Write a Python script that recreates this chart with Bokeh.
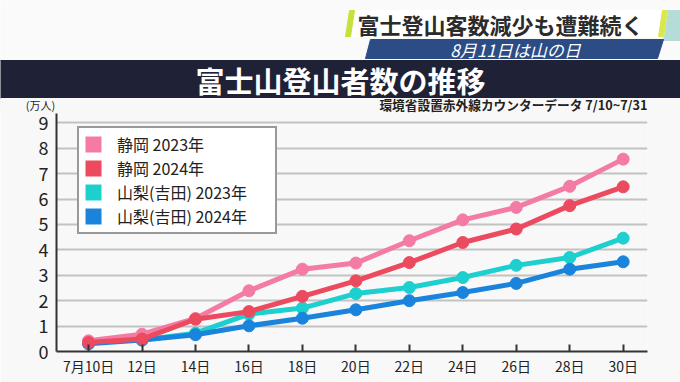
from bokeh.plotting import figure
from bokeh.models import Range1d, FixedTicker, Legend, LegendItem
from bokeh.embed import file_html
from bokeh.resources import INLINE
from bokeh.core.properties import value

# ---- data ----
days = [10, 12, 14, 16, 18, 20, 22, 24, 26, 28, 30]
day_labels = ["7月10日", "12日", "14日", "16日", "18日", "20日", "22日", "24日", "26日", "28日", "30日"]
shizuoka_2023 = [0.42, 0.68, 1.30, 2.39, 3.24, 3.48, 4.36, 5.18, 5.67, 6.50, 7.57]
shizuoka_2024 = [0.35, 0.49, 1.27, 1.57, 2.17, 2.78, 3.50, 4.29, 4.82, 5.74, 6.48]
yamanashi_2023 = [0.38, 0.45, 0.72, 1.47, 1.71, 2.28, 2.52, 2.91, 3.39, 3.70, 4.46]
yamanashi_2024 = [0.30, 0.45, 0.66, 1.01, 1.31, 1.64, 2.00, 2.32, 2.68, 3.24, 3.53]
series_names = ["静岡 2023年", "静岡 2024年", "山梨(吉田) 2023年", "山梨(吉田) 2024年"]
y_ticks = [0, 1, 2, 3, 4, 5, 6, 7, 8, 9]

headline = "富士登山客数減少も遭難続く"
subline = "8月11日は山の日"
title_text = "富士山登山者数の推移"
unit_text = "(万人)"
source_text = "環境省設置赤外線カウンターデータ 7/10~7/31"

FONT = "Noto Sans CJK JP"
colors = ["#f47ba3", "#ec4a5f", "#1ecfcf", "#1a84dc"]
series = [shizuoka_2023, shizuoka_2024, yamanashi_2023, yamanashi_2024]
PANEL = "#f8f8f8"

# ---- header (pixel space, y grows downward) ----
W = 680
HH = 113          # header height (frame of chart starts here)
OVER = 15         # chart canvas slides this far up under the header
header = figure(width=W, height=HH, x_range=Range1d(0, W), y_range=Range1d(HH, 0),
                output_backend="svg", toolbar_location=None, title=None,
                x_axis_location=None, y_axis_location=None, min_border=0,
                styles={"position": "relative", "z-index": "2"})
header.grid.visible = False
header.outline_line_color = None
header.background_fill_color = "#fafafa"
header.border_fill_color = "#fafafa"

header.quad(left=[-2], right=[W + 2], top=[60], bottom=[98], color="#1f2236")
header.quad(left=[-2], right=[W + 2], top=[98], bottom=[HH + 1], color=PANEL)
header.patch(x=[667, 681, 681, 663], y=[10, 10, 40, 40], color="#b5dcd6")
header.patch(x=[349, 667, 663, 345], y=[10, 10, 36, 36], color="white")
header.patch(x=[349, 354, 350, 345], y=[10, 10, 36, 36], color="#c6e23a")
header.patch(x=[662, 667, 663, 658], y=[10, 10, 36, 36], color="#d9e84a")
header.patch(x=[370, 663, 657, 365], y=[39, 39, 58, 58], color="#2c4c86")

header.text(x=[500], y=[23], text=[headline], text_font=value(FONT), text_font_size="22px",
            text_font_style="bold", text_color="#2b2b2b", text_align="center", text_baseline="middle")
header.text(x=[515], y=[49], text=[subline], text_font=value(FONT), text_font_size="17px",
            text_font_style="italic", text_color="white", text_align="center", text_baseline="middle")
header.text(x=[340], y=[79], text=[title_text], text_font=value(FONT), text_font_size="29px",
            text_font_style="bold", text_color="white", text_align="center", text_baseline="middle")
header.text(x=[40], y=[104], text=[unit_text], text_font=value(FONT), text_font_size="11px",
            text_color="#222222", text_align="center", text_baseline="middle")
header.text(x=[647], y=[104], text=[source_text], text_font=value(FONT), text_font_size="12.7px",
            text_font_style="bold", text_color="#222222", text_align="right", text_baseline="middle")

# ---- chart ----
p = figure(width=W, height=382 - HH + OVER, x_range=Range1d(8.80, 30.91), y_range=Range1d(0, 9.366),
           output_backend="svg", toolbar_location=None, title=None,
           min_border_left=56, min_border_right=33, min_border_top=OVER, min_border_bottom=31,
           styles={"margin-top": f"-{OVER}px"})
p.background_fill_color = PANEL
p.border_fill_color = PANEL
p.outline_line_color = None
p.xgrid.visible = False
p.ygrid.grid_line_color = "#c2c2c2"
p.ygrid.grid_line_width = 2

p.yaxis.ticker = FixedTicker(ticks=y_ticks)
p.yaxis.major_tick_in = 0
p.yaxis.major_tick_out = 0
p.yaxis.minor_tick_line_color = None
p.yaxis.axis_line_width = 2
p.yaxis.axis_line_color = "#333333"
p.yaxis.major_label_text_font = FONT
p.yaxis.major_label_text_font_size = "18px"
p.yaxis.major_label_text_color = "#222222"
p.yaxis.major_label_standoff = 8

p.xaxis.ticker = FixedTicker(ticks=days)
p.xaxis.major_label_overrides = {d: lab for d, lab in zip(days, day_labels)}
p.xaxis.major_tick_in = 7
p.xaxis.major_tick_out = 0
p.xaxis.major_tick_line_width = 2
p.xaxis.major_tick_line_color = "#333333"
p.xaxis.minor_tick_line_color = None
p.xaxis.axis_line_width = 2
p.xaxis.axis_line_color = "#333333"
p.xaxis.major_label_text_font = FONT
p.xaxis.major_label_text_font_size = "14px"
p.xaxis.major_label_text_color = "#222222"
p.xaxis.major_label_standoff = 4

draw_order = [2, 3, 0, 1]
for i in draw_order:
    p.line(days, series[i], line_width=5, color=colors[i])
    p.scatter(days, series[i], size=12, color=colors[i])

# zero-size proxies, used only to show filled squares in the legend
items = []
for name, c in zip(series_names, colors):
    r = p.quad(left=days[:1], right=days[:1], top=y_ticks[:1], bottom=y_ticks[:1],
               fill_color=c, line_color=None)
    items.append(LegendItem(label=name, renderers=[r]))

legend = Legend(items=items, location=(21, 117), glyph_width=20, glyph_height=20,
                label_standoff=14, label_width=154, label_height=20, spacing=0, padding=4,
                border_line_color="#333333", border_line_width=2,
                background_fill_color="white", background_fill_alpha=1,
                label_text_font=FONT, label_text_font_size="16px", label_text_color="#222222",
                margin=0)
p.add_layout(legend)

open("out.html", "w").write(file_html([header, p], INLINE))
